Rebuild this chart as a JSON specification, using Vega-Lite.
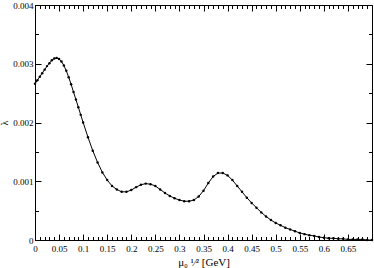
{
  "$schema": "https://vega.github.io/schema/vega-lite/v6.json",
  "width": 337,
  "height": 235,
  "autosize": {"type": "none"},
  "padding": {"left": 35, "top": 5, "right": 2, "bottom": 28},
  "background": "white",
  "config": {
    "view": {"stroke": "black", "strokeWidth": 1},
    "axis": {
      "grid": false,
      "domainColor": "black",
      "domainWidth": 1,
      "tickColor": "black",
      "tickWidth": 1,
      "labelColor": "black",
      "labelFont": "Liberation Serif",
      "labelFontSize": 9,
      "titleFont": "Liberation Serif",
      "titleFontWeight": "normal",
      "titleColor": "black",
      "labelOverlap": false,
      "labelBound": false,
      "labelFlush": false
    }
  },
  "data": {
    "values": [
      {"x": 0, "y": 0.00266}, {"x": 0.005, "y": 0.00272}, {"x": 0.01, "y": 0.00278}, {"x": 0.015, "y": 0.00284},
      {"x": 0.02, "y": 0.0029}, {"x": 0.025, "y": 0.00296}, {"x": 0.03, "y": 0.00301}, {"x": 0.035, "y": 0.00306},
      {"x": 0.04, "y": 0.00309}, {"x": 0.045, "y": 0.0031}, {"x": 0.05, "y": 0.00308}, {"x": 0.055, "y": 0.00304},
      {"x": 0.06, "y": 0.00297}, {"x": 0.065, "y": 0.00288}, {"x": 0.07, "y": 0.00277}, {"x": 0.075, "y": 0.00265},
      {"x": 0.08, "y": 0.00252}, {"x": 0.085, "y": 0.00239}, {"x": 0.09, "y": 0.00226}, {"x": 0.095, "y": 0.00213},
      {"x": 0.1, "y": 0.002}, {"x": 0.11, "y": 0.00175}, {"x": 0.12, "y": 0.00152}, {"x": 0.13, "y": 0.00132},
      {"x": 0.14, "y": 0.00115}, {"x": 0.15, "y": 0.00102}, {"x": 0.16, "y": 0.00092}, {"x": 0.17, "y": 0.00086},
      {"x": 0.18, "y": 0.00082}, {"x": 0.19, "y": 0.00082}, {"x": 0.2, "y": 0.00085}, {"x": 0.21, "y": 0.0009},
      {"x": 0.22, "y": 0.00094}, {"x": 0.23, "y": 0.00096}, {"x": 0.24, "y": 0.00095}, {"x": 0.25, "y": 0.00092},
      {"x": 0.26, "y": 0.00086}, {"x": 0.27, "y": 0.0008}, {"x": 0.28, "y": 0.00075}, {"x": 0.29, "y": 0.00071},
      {"x": 0.3, "y": 0.00068}, {"x": 0.31, "y": 0.00066}, {"x": 0.32, "y": 0.00066}, {"x": 0.33, "y": 0.00068},
      {"x": 0.34, "y": 0.00074}, {"x": 0.35, "y": 0.00084}, {"x": 0.36, "y": 0.00097}, {"x": 0.37, "y": 0.00108},
      {"x": 0.38, "y": 0.00114}, {"x": 0.39, "y": 0.00114}, {"x": 0.4, "y": 0.0011}, {"x": 0.41, "y": 0.00102},
      {"x": 0.42, "y": 0.00092}, {"x": 0.43, "y": 0.00082}, {"x": 0.44, "y": 0.00072}, {"x": 0.45, "y": 0.00063},
      {"x": 0.46, "y": 0.00055}, {"x": 0.47, "y": 0.00047}, {"x": 0.48, "y": 0.0004}, {"x": 0.49, "y": 0.00034},
      {"x": 0.5, "y": 0.00029}, {"x": 0.51, "y": 0.00025}, {"x": 0.52, "y": 0.00021}, {"x": 0.53, "y": 0.00018},
      {"x": 0.54, "y": 0.00015}, {"x": 0.55, "y": 0.00012}, {"x": 0.56, "y": 0.0001}, {"x": 0.57, "y": 0.00008},
      {"x": 0.58, "y": 0.00007}, {"x": 0.59, "y": 0.00005}, {"x": 0.6, "y": 0.00004}, {"x": 0.61, "y": 0.00003},
      {"x": 0.62, "y": 0.00003}, {"x": 0.63, "y": 0.00002}, {"x": 0.64, "y": 0.00002}, {"x": 0.65, "y": 0.00001},
      {"x": 0.66, "y": 0.00001}, {"x": 0.67, "y": 0.00001}, {"x": 0.68, "y": 0.00001}, {"x": 0.69, "y": 0},
      {"x": 0.7, "y": 0}
    ]
  },
  "layer": [
    {
      "mark": {"type": "line", "color": "black", "strokeWidth": 1},
      "encoding": {
        "x": {
          "field": "x", "type": "quantitative",
          "scale": {"domain": [0, 0.7], "nice": false, "zero": false},
          "axis": {
            "orient": "bottom",
            "title": "μ₀  ¹⁄²  [GeV]",
            "titleFontSize": 11,
            "titlePadding": 1,
            "values": [0,0.01,0.02,0.03,0.04,0.05,0.06,0.07,0.08,0.09,0.1,0.11,0.12,0.13,0.14,0.15,0.16,0.17,0.18,0.19,0.2,0.21,0.22,0.23,0.24,0.25,0.26,0.27,0.28,0.29,0.3,0.31,0.32,0.33,0.34,0.35,0.36,0.37,0.38,0.39,0.4,0.41,0.42,0.43,0.44,0.45,0.46,0.47,0.48,0.49,0.5,0.51,0.52,0.53,0.54,0.55,0.56,0.57,0.58,0.59,0.6,0.61,0.62,0.63,0.64,0.65,0.66,0.67,0.68,0.69],
            "labelExpr": "round(datum.value*100) % 5 == 0 ? format(datum.value, '~g') : ''",
            "tickSize": {"condition": {"test": "round(datum.value*100) % 5 == 0", "value": -6}, "value": -3.5},
            "labelPadding": 10
          }
        },
        "y": {
          "field": "y", "type": "quantitative",
          "scale": {"domain": [0, 0.004], "nice": false},
          "axis": {
            "orient": "left",
            "title": "λ",
            "titleFontSize": 10,
            "titlePadding": 3,
            "values": [0,0.0005,0.001,0.0015,0.002,0.0025,0.003,0.0035,0.004],
            "labelExpr": "round(datum.value*10000) % 10 == 0 ? format(datum.value, '~g') : ''",
            "tickSize": {"condition": {"test": "round(datum.value*10000) % 10 == 0", "value": -6}, "value": -3.5},
            "labelPadding": 8
          }
        }
      }
    },
    {
      "mark": {"type": "point", "filled": true, "color": "black", "size": 6, "opacity": 1},
      "encoding": {
        "x": {
          "field": "x", "type": "quantitative",
          "axis": {
            "orient": "top", "title": null, "labels": false, "domain": false,
            "values": [0,0.01,0.02,0.03,0.04,0.05,0.06,0.07,0.08,0.09,0.1,0.11,0.12,0.13,0.14,0.15,0.16,0.17,0.18,0.19,0.2,0.21,0.22,0.23,0.24,0.25,0.26,0.27,0.28,0.29,0.3,0.31,0.32,0.33,0.34,0.35,0.36,0.37,0.38,0.39,0.4,0.41,0.42,0.43,0.44,0.45,0.46,0.47,0.48,0.49,0.5,0.51,0.52,0.53,0.54,0.55,0.56,0.57,0.58,0.59,0.6,0.61,0.62,0.63,0.64,0.65,0.66,0.67,0.68,0.69],
            "tickSize": {"condition": {"test": "round(datum.value*100) % 5 == 0", "value": -6}, "value": -3.5}
          }
        },
        "y": {
          "field": "y", "type": "quantitative",
          "axis": {
            "orient": "right", "title": null, "labels": false, "domain": false,
            "values": [0,0.0005,0.001,0.0015,0.002,0.0025,0.003,0.0035,0.004],
            "tickSize": {"condition": {"test": "round(datum.value*10000) % 10 == 0", "value": -6}, "value": -3.5}
          }
        }
      }
    }
  ],
  "resolve": {"axis": {"x": "independent", "y": "independent"}}
}
